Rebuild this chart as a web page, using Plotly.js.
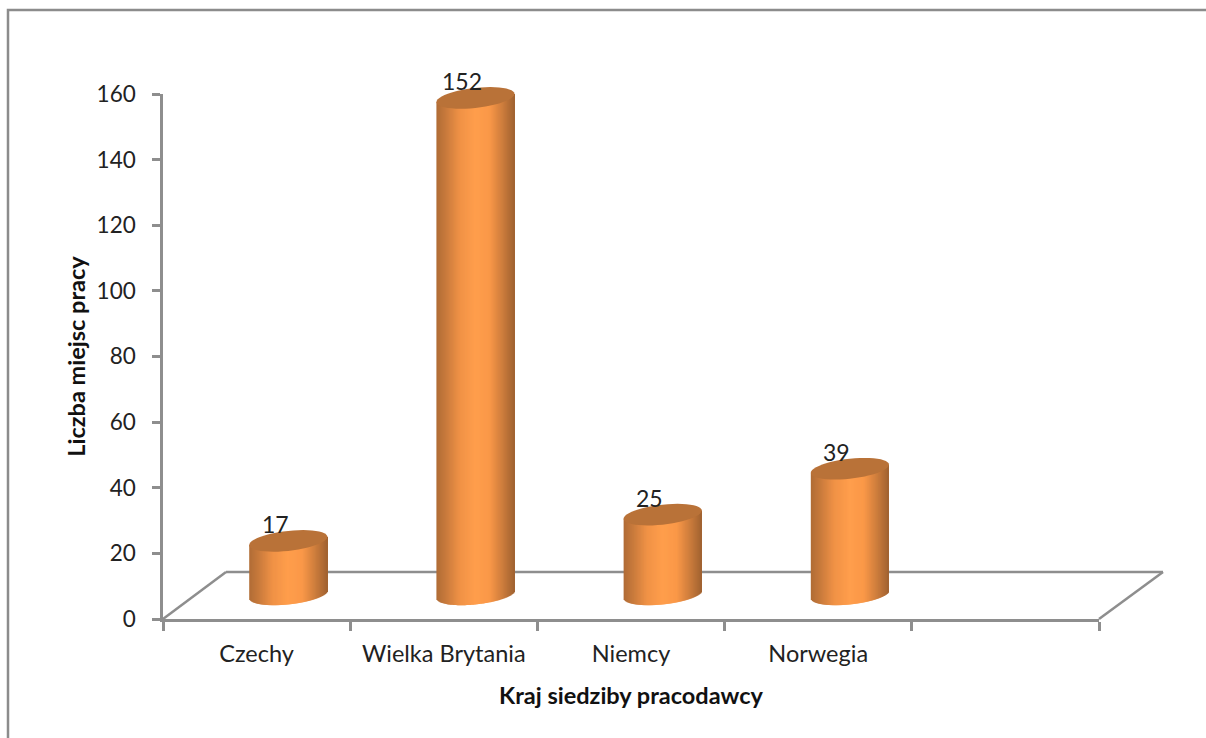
<!DOCTYPE html>
<html><head><meta charset="utf-8">
<script src="https://cdn.plot.ly/plotly-3.0.1.min.js"></script>
<style>html,body{margin:0;padding:0;background:#fff}#c{width:1206px;height:738px}</style>
</head><body><div id="c"></div>
<script>
const categories = ["Czechy","Wielka Brytania","Niemcy","Norwegia"," "];
const values = [17,152,25,39];
const yTicks = [0,20,40,60,80,100,120,140,160];
const xTitle = "Kraj siedziby pracodawcy";
const yTitle = "Liczba miejsc pracy";

// cylinder look
const floorLift = 7.5, topLift = 6.8, depthShift = 0.169, cylWidth = 0.417, strips = 78;
const tiltUnits = 1.25, capUnits = 3.05;
const gradStops = [[0,[176,108,54]],[0.12,[200,122,60]],[0.3,[240,146,70]],[0.5,[255,158,76]],[0.68,[250,152,72]],[0.85,[204,124,60]],[1,[160,98,48]]];
function shade(t){
  for(let i=1;i<gradStops.length;i++){
    if(t<=gradStops[i][0]){
      const a=gradStops[i-1],b=gradStops[i],f=(t-a[0])/(b[0]-a[0]);
      return 'rgb('+a[1].map((c,k)=>Math.round(c+(b[1][k]-c)*f)).join(',')+')';
    }
  }
  return 'rgb(160,98,48)';
}
const centers = values.map((v,i)=>i+depthShift);
const traces = [{type:'scatter',x:categories,y:categories.map(()=>0),xaxis:'x',yaxis:'y',mode:'none',hoverinfo:'skip',showlegend:false}];
const stripW = cylWidth/strips;
for(let j=0;j<strips;j++){
  const t=(j+0.5)/strips, u=2*t-1, off=u*cylWidth/2;
  const drop=capUnits*Math.sqrt(1-u*u), tilt=tiltUnits*u;
  const last = j===strips-1;
  const w = last ? stripW : stripW*2;
  traces.push({type:'bar',xaxis:'x2',yaxis:'y',showlegend:false,hoverinfo:'skip',
    x:centers.map(c=>c+off-stripW/2+w/2),
    width:w,
    base:values.map(()=>floorLift+tilt-drop),
    y:values.map(v=>v+topLift-floorLift+drop),
    marker:{color:shade(t),line:{width:0}}});
}
const line='#8e8e8e';
const px=(X)=>(X-163)/936, py=(Y)=>(619-Y)/525;
const sh=(x0,y0,x1,y1,w)=>({type:'line',xref:'paper',yref:'paper',x0:px(x0),y0:py(y0),x1:px(x1),y1:py(y1),line:{color:line,width:w||2.5},layer:'below'});
const shapes=[sh(226,572,1163,572),sh(163,619,226,572),sh(1099,619,1163,572),
  {type:'rect',xref:'paper',yref:'paper',x0:px(8),y0:py(10),x1:px(1216),y1:py(748),line:{color:'#8c8c8c',width:2.5},fillcolor:'rgba(0,0,0,0)',layer:'below'}];
values.forEach((v,i)=>{
  let d='';
  for(let k=0;k<48;k++){
    const a=k/48*2*Math.PI;
    const xd=centers[i]+Math.cos(a)*cylWidth/2;
    const yd=topLift+v+tiltUnits*Math.cos(a)+capUnits*Math.sin(a);
    d+=(k?'L':'M')+((xd+0.5)/5).toFixed(5)+','+(yd/160).toFixed(5);
  }
  shapes.push({type:'path',xref:'paper',yref:'paper',path:d+'Z',fillcolor:'#b97238',line:{width:0},layer:'above'});
});
const annotations=values.map((v,i)=>({xref:'x2',yref:'y',x:centers[i],y:topLift+v,text:String(v),showarrow:false,xanchor:'center',yanchor:'middle',xshift:-13,yshift:17,font:{family:'Lato',size:23,color:'#222'}}));
const layout={
  width:1206,height:738,paper_bgcolor:'#fff',plot_bgcolor:'rgba(0,0,0,0)',
  margin:{l:163,r:107,t:94,b:119},barmode:'overlay',showlegend:false,
  font:{family:'Lato',size:21,color:'#222'},
  xaxis:{type:'category',categoryorder:'array',categoryarray:categories,range:[-0.5,4.5],tickson:'boundaries',
    ticks:'outside',ticklen:9,tickwidth:2.5,tickcolor:line,showline:true,linecolor:line,linewidth:2.5,showgrid:false,zeroline:false,
    tickfont:{family:'Lato',size:23.5,color:'#222'},ticklabelstandoff:12,
    title:{text:xTitle,font:{family:'Lato',size:23.5,color:'#111',weight:'bold'},standoff:22},automargin:false},
  xaxis2:{overlaying:'x',range:[-0.5,4.5],visible:false,anchor:'y',side:'bottom'},
  yaxis:{range:[0,160],tickmode:'array',tickvals:yTicks,ticks:'outside',ticklen:8,tickwidth:2.5,tickcolor:line,showline:true,linecolor:line,linewidth:2.5,showgrid:false,zeroline:false,
    tickfont:{family:'Lato',size:22.5,color:'#222'},ticklabelstandoff:12,
    title:{text:yTitle,font:{family:'Lato',size:23.5,color:'#111',weight:'bold'},standoff:5},automargin:false},
  shapes,annotations
};
Plotly.newPlot('c',traces,layout,{displayModeBar:false});
</script></body></html>
